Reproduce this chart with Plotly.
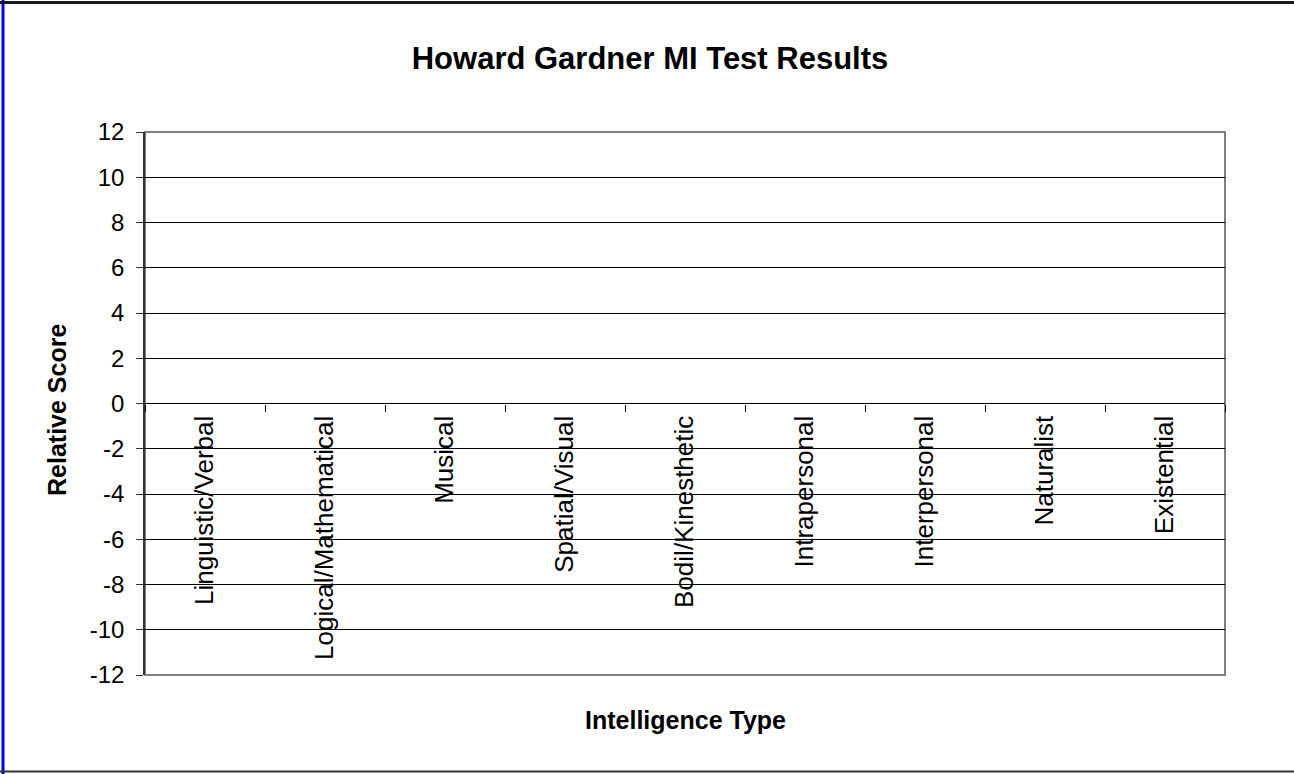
import plotly.graph_objects as go

categories = ["Linguistic/Verbal", "Logical/Mathematical", "Musical", "Spatial/Visual",
              "Bodil/Kinesthetic", "Intrapersonal", "Interpersonal", "Naturalist", "Existential"]
scores = [0, 0, 0, 0, 0, 0, 0, 0, 0]
y_ticks = [-12, -10, -8, -6, -4, -2, 0, 2, 4, 6, 8, 10, 12]
y_ticktext = [str(v) for v in y_ticks]

W, H = 1294, 774
L, R, T, B = 145, 1225, 132, 675
pw, ph = R - L, B - T

def px(x):
    return (x - L) / pw

def py(y):
    return (B - y) / ph

FONT = "Arial, Liberation Sans, sans-serif"

fig = go.Figure()
fig.add_trace(go.Bar(x=categories, y=scores, marker_color="#9999FF",
                     marker_line_width=0, showlegend=False))

fig.update_layout(
    width=W, height=H,
    margin=dict(l=L, r=W - R, t=T, b=H - B),
    paper_bgcolor="white", plot_bgcolor="white",
    font=dict(family=FONT, size=24, color="black"),
    title=dict(text="<b>Howard Gardner MI Test Results</b>", x=px(650), xref="paper",
               xanchor="center", y=1 - 58 / H, yanchor="middle", font=dict(size=31)),
    bargap=0.5,
)
fig.update_xaxes(
    type="category", range=[-0.5, len(categories) - 0.5],
    anchor="free", position=0.5,
    tickangle=-90, tickson="boundaries", ticks="outside", ticklen=7,
    tickcolor="black", tickwidth=1, showline=False, showgrid=False,
    tickfont=dict(size=26), ticklabelstandoff=6, layer="above traces",
)
fig.update_yaxes(
    range=[-12, 12], tickvals=y_ticks, ticktext=y_ticktext, ticks="outside", ticklen=7,
    tickcolor="#333333", showline=True, linecolor="#333333", linewidth=1.5,
    showgrid=True, gridcolor="black", gridwidth=1,
    zeroline=True, zerolinecolor="black", zerolinewidth=1.2,
    tickfont=dict(size=24), ticklabelstandoff=7, layer="above traces",
)

fig.add_shape(type="rect", xref="paper", yref="paper", x0=0, x1=1, y0=0, y1=1,
              line=dict(color="#808080", width=2), layer="below")
fig.add_shape(type="line", xref="paper", yref="y", x0=0, x1=1, y0=0, y1=0,
              line=dict(color="black", width=1.2), layer="above")

fig.add_annotation(text="<b>Relative Score</b>", xref="paper", yref="paper",
                   x=px(57), y=py(410), textangle=-90, showarrow=False,
                   xanchor="center", yanchor="middle", font=dict(size=25))
fig.add_annotation(text="<b>Intelligence Type</b>", xref="paper", yref="paper",
                   x=0.5, y=py(720), showarrow=False,
                   xanchor="center", yanchor="middle", font=dict(size=25))

# outer border
fig.add_shape(type="line", xref="paper", yref="paper", x0=px(3), x1=px(3), y0=py(0), y1=py(774),
              line=dict(color="#0000FF", width=3))
fig.add_shape(type="line", xref="paper", yref="paper", x0=px(0), x1=px(1294), y0=py(2.5), y1=py(2.5),
              line=dict(color="#1a1a1a", width=3))
fig.add_shape(type="line", xref="paper", yref="paper", x0=px(0), x1=px(1294), y0=py(771.5), y1=py(771.5),
              line=dict(color="#333333", width=2))

fig.write_html("out.html", config={"displayModeBar": False},
               post_script="document.body.style.margin='0';document.body.style.overflow='hidden';")
